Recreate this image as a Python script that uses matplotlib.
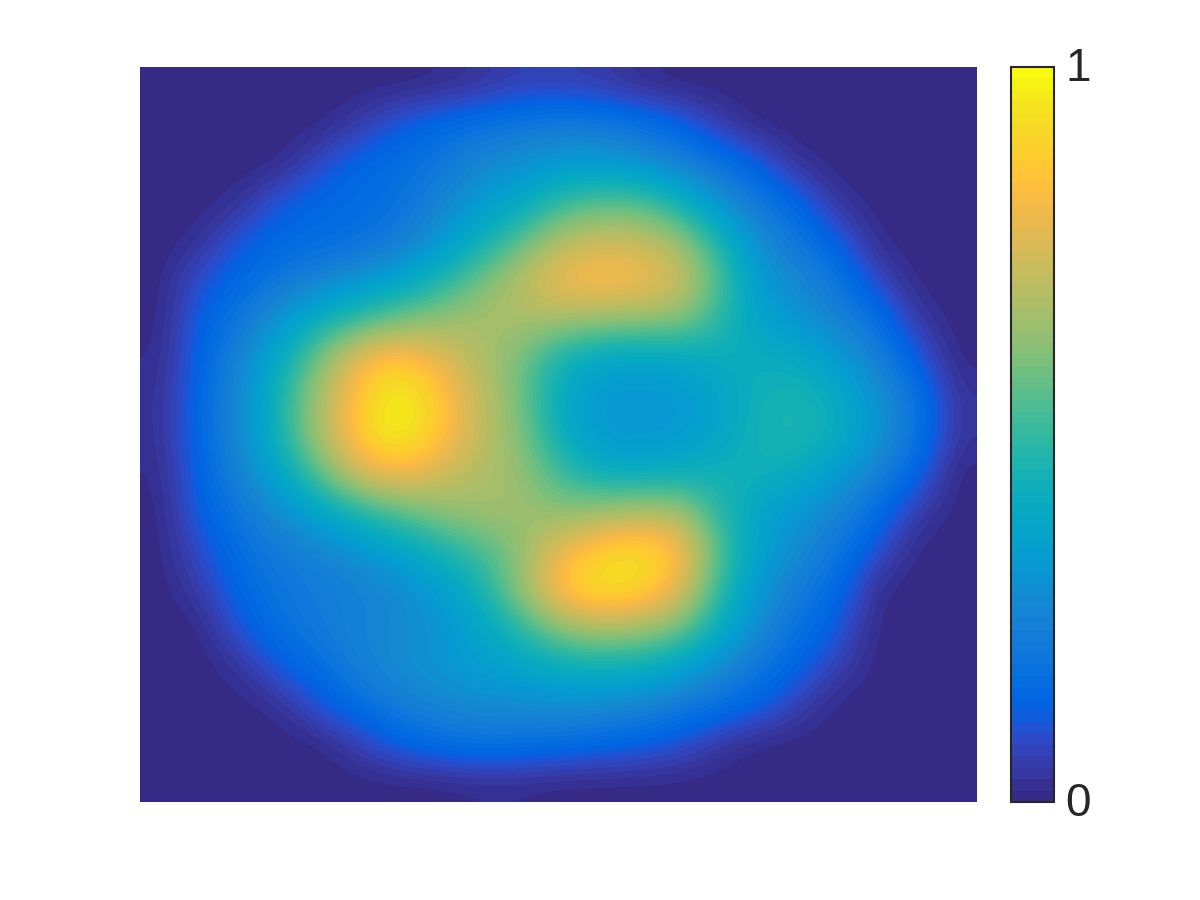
import matplotlib
matplotlib.use("Agg")
import matplotlib.pyplot as plt
import numpy as np
from matplotlib.colors import ListedColormap
from matplotlib.transforms import ScaledTranslation

parula_rgb = [
(0.2081,0.1663,0.5292),(0.2116,0.1898,0.5777),(0.2123,0.2138,0.6270),(0.2081,0.2386,0.6771),
(0.1959,0.2645,0.7279),(0.1707,0.2919,0.7792),(0.1253,0.3242,0.8303),(0.0591,0.3598,0.8683),
(0.0117,0.3875,0.8820),(0.0060,0.4086,0.8828),(0.0165,0.4266,0.8786),(0.0329,0.4430,0.8720),
(0.0498,0.4586,0.8641),(0.0629,0.4737,0.8554),(0.0723,0.4887,0.8467),(0.0779,0.5040,0.8384),
(0.0793,0.5200,0.8312),(0.0749,0.5375,0.8263),(0.0641,0.5570,0.8240),(0.0488,0.5772,0.8228),
(0.0343,0.5966,0.8199),(0.0265,0.6137,0.8135),(0.0239,0.6287,0.8038),(0.0231,0.6418,0.7913),
(0.0228,0.6535,0.7768),(0.0267,0.6642,0.7607),(0.0384,0.6743,0.7436),(0.0590,0.6838,0.7254),
(0.0843,0.6928,0.7062),(0.1133,0.7015,0.6859),(0.1453,0.7098,0.6646),(0.1801,0.7177,0.6424),
(0.2178,0.7250,0.6193),(0.2586,0.7317,0.5954),(0.3022,0.7376,0.5712),(0.3482,0.7424,0.5473),
(0.3953,0.7459,0.5244),(0.4420,0.7481,0.5033),(0.4871,0.7491,0.4840),(0.5300,0.7491,0.4661),
(0.5709,0.7485,0.4494),(0.6099,0.7473,0.4337),(0.6473,0.7456,0.4188),(0.6834,0.7435,0.4044),
(0.7184,0.7411,0.3905),(0.7525,0.7384,0.3768),(0.7858,0.7356,0.3633),(0.8185,0.7327,0.3498),
(0.8507,0.7299,0.3360),(0.8824,0.7274,0.3217),(0.9139,0.7258,0.3063),(0.9450,0.7261,0.2886),
(0.9739,0.7314,0.2666),(0.9938,0.7455,0.2403),(0.9990,0.7653,0.2164),(0.9955,0.7861,0.1967),
(0.9880,0.8066,0.1794),(0.9789,0.8271,0.1633),(0.9697,0.8481,0.1475),(0.9626,0.8705,0.1309),
(0.9589,0.8949,0.1132),(0.9598,0.9218,0.0948),(0.9661,0.9514,0.0755),(0.9763,0.9831,0.0538)]

colorbar_ticks = [0, 1]
colorbar_labels = ["0", "1"]

row_01 = [0,0,0,0,0,0,0,.01,.03,.06,.06,.05,.02,0,0,0,0,0,0,0,0]
row_02 = [0,0,0,0,0,.05,.12,.16,.19,.21,.23,.22,.19,.14,.06,0,0,0,0,0,0]
row_03 = [0,0,0,0,.09,.15,.17,.20,.26,.29,.32,.33,.30,.25,.19,.13,.02,0,0,0,0]
row_04 = [0,0,.02,.12,.15,.16,.18,.25,.33,.38,.50,.55,.55,.45,.30,.21,.15,.03,0,0,0]
row_05 = [0,.02,.12,.15,.16,.18,.22,.30,.42,.55,.69,.74,.73,.66,.47,.28,.20,.13,.01,0,0]
row_06 = [0,.10,.15,.20,.25,.30,.36,.46,.58,.70,.81,.85,.83,.76,.55,.33,.27,.20,.08,0,0]
row_07 = [0,.13,.20,.30,.42,.50,.58,.63,.67,.68,.67,.65,.64,.63,.50,.36,.31,.25,.18,.04,0]
row_08 = [.01,.14,.25,.40,.60,.80,.87,.78,.68,.60,.45,.38,.36,.38,.42,.42,.40,.33,.24,.12,0]
row_09 = [.02,.15,.27,.45,.67,.87,1.0,.87,.72,.60,.40,.32,.31,.32,.36,.44,.46,.41,.30,.19,.03]
row_10 = [.02,.15,.27,.45,.68,.88,1.0,.87,.72,.62,.42,.32,.31,.32,.37,.45,.47,.42,.31,.20,.03]
row_11 = [.01,.14,.25,.38,.56,.76,.82,.75,.68,.65,.52,.42,.40,.42,.44,.44,.41,.34,.25,.14,0]
row_12 = [0,.13,.20,.28,.37,.47,.55,.62,.66,.66,.62,.65,.68,.68,.48,.37,.31,.26,.16,.05,0]
row_13 = [0,.09,.17,.22,.25,.30,.36,.45,.52,.62,.79,.89,.94,.87,.55,.36,.28,.20,.10,0,0]
row_14 = [0,.05,.15,.20,.22,.24,.27,.33,.44,.63,.86,.96,.93,.80,.50,.32,.22,.16,.01,0,0]
row_15 = [0,0,.11,.18,.22,.25,.27,.30,.36,.48,.62,.68,.66,.60,.42,.28,.18,.12,0,0,0]
row_16 = [0,0,.03,.12,.17,.24,.28,.31,.34,.37,.41,.43,.42,.37,.28,.20,.14,.06,0,0,0]
row_17 = [0,0,0,.02,.11,.17,.23,.26,.28,.28,.29,.28,.26,.22,.18,.14,.06,0,0,0,0]
row_18 = [0,0,0,0,0,.06,.13,.17,.19,.18,.17,.15,.13,.10,.04,0,0,0,0,0,0]
row_19 = [0,0,0,0,0,0,0,0,.01,.01,0,0,0,0,0,0,0,0,0,0,0]

values = np.array([row_01,row_02,row_03,row_04,row_05,row_06,row_07,row_08,row_09,row_10,
                   row_11,row_12,row_13,row_14,row_15,row_16,row_17,row_18,row_19])

plt.rcParams["font.family"] = ["Liberation Sans", "DejaVu Sans"]
cmap = ListedColormap(parula_rgb, name="parula")
W, H = 1200, 900
fig = plt.figure(figsize=(12, 9), dpi=100, facecolor="white")
ax = fig.add_axes([140/W, 1-802/H, (977-140)/W, (802-67)/H])
im = ax.imshow(values, cmap=cmap, vmin=0, vmax=1, aspect="auto",
               interpolation="bicubic", interpolation_stage="data")
ax.set_axis_off()

cax = fig.add_axes([1011/W, 1-802/H, (1054-1011)/W, (802-67)/H])
cb = fig.colorbar(im, cax=cax)
cb.set_ticks(colorbar_ticks)
cb.set_ticklabels(colorbar_labels)
cb.ax.tick_params(labelsize=33, length=0, pad=8, colors="#262626")
shift = ScaledTranslation(0, 3/100, fig.dpi_scale_trans)
for lab in cb.ax.get_yticklabels():
    lab.set_transform(lab.get_transform() + shift)
cb.outline.set_edgecolor("#262626")
cb.outline.set_linewidth(1.5)
fig.savefig("out.png", dpi=100)
